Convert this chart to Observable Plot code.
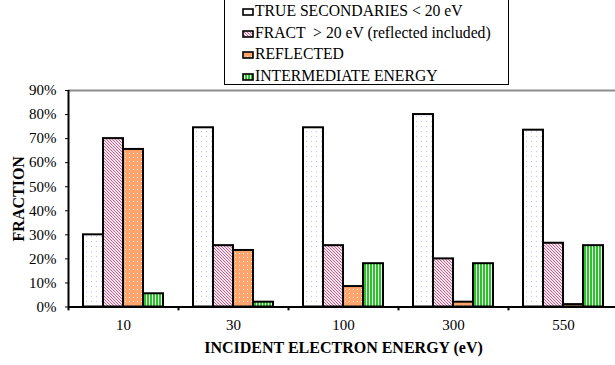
<!DOCTYPE html>
<html>
<head>
<meta charset="utf-8">
<script src="https://cdn.jsdelivr.net/npm/d3@7"></script>
<script src="https://cdn.jsdelivr.net/npm/@observablehq/plot@0.6"></script>
<style>
  html, body { margin: 0; padding: 0; background: white; }
  #wrap { position: relative; width: 615px; height: 365px; overflow: hidden; }
  #wrap svg.chart { display: block; }
  #legend { position: absolute; left: 224px; top: -3px; width: 283px; height: 86px;
            border: 1.5px solid black; background: white;
            font-family: "Liberation Serif", "Times New Roman", serif; font-size: 15.7px; color: black; }
  .row { position: absolute; left: 0; white-space: pre; }
  .row svg { position: absolute; left: 17px; }
  .row span { position: absolute; left: 30px; line-height: 18px; }
</style>
</head>
<body>
<div id="wrap"></div>
<script>
// ---- data ----
const categories = ["10", "30", "100", "300", "550"];
const seriesNames = [
  "TRUE SECONDARIES < 20 eV",
  "FRACT  > 20 eV (reflected included)",
  "REFLECTED",
  "INTERMEDIATE ENERGY"
];
const trueSecondaries = [30, 74.5, 74.5, 80, 73.5];
const fractAbove20 = [70, 25.5, 25.5, 20, 26.5];
const reflected = [65.5, 23.5, 8.5, 2, 1];
const intermediate = [5.5, 2, 18, 18, 25.5];
const yTicks = [0, 10, 20, 30, 40, 50, 60, 70, 80, 90];
const xTitle = "INCIDENT ELECTRON ENERGY (eV)";
const yTitle = "FRACTION";

const seriesValues = [trueSecondaries, fractAbove20, reflected, intermediate];
const rows = [];
seriesNames.forEach((s, k) => categories.forEach((c, i) => rows.push({energy: c, series: s, value: seriesValues[k][i]})));

const patIds = ["patTrue", "patFract", "patRefl", "patInter"];

const chart = Plot.plot({
  width: 615,
  height: 365,
  marginLeft: 68,
  marginRight: -3,
  marginTop: 90,
  marginBottom: 58.5,
  style: {fontFamily: "'Liberation Serif', 'Times New Roman', serif", fontSize: "15px", color: "black", background: "white"},
  fx: {domain: categories, padding: 0, label: xTitle, labelAnchor: "center", labelArrow: "none", labelOffset: 46, tickSize: 0, tickPadding: 12},
  x: {domain: seriesNames, paddingInner: 0, paddingOuter: 0.75, axis: null},
  y: {domain: [0, 90], ticks: yTicks, tickFormat: d => d + "%", tickSize: 3, tickPadding: 9, label: yTitle, labelAnchor: "center", labelArrow: "none", labelOffset: 56},
  marks: [
    Plot.ruleY([90], {stroke: "#8c8c8c", strokeWidth: 2}),
    ...seriesNames.map((s, k) => Plot.barY(rows.filter(d => d.series === s), {
      fx: "energy", x: "series", y: "value",
      fill: `url(#${patIds[k]})`, stroke: "black", strokeWidth: 2
    })),
    Plot.ruleY([0], {stroke: "black", strokeWidth: 2}),
    // boundary tick marks below the axis
    Plot.ruleX(categories, {fx: d => d, x: () => seriesNames[0], y1: 0, y2: -1.6, dx: -25, stroke: "black", strokeWidth: 2}),
    // y axis line (first facet only)
    Plot.ruleX([categories[0]], {fx: d => d, x: () => seriesNames[0], y1: 0, y2: 90, dx: -25, stroke: "black", strokeWidth: 2})
  ]
});
chart.classList.add("chart");

// pattern definitions
const svg = d3.select(chart);
const defs = svg.insert("defs", ":first-child");
function addPatterns(defs) {
  let p = defs.append("pattern").attr("id", "patTrue").attr("patternUnits", "userSpaceOnUse").attr("width", 5).attr("height", 5);
  p.append("rect").attr("width", 5).attr("height", 5).attr("fill", "white");
  p.append("rect").attr("x", 1).attr("y", 1).attr("width", 1).attr("height", 1).attr("fill", "#c4c4f2");
  p = defs.append("pattern").attr("id", "patFract").attr("patternUnits", "userSpaceOnUse").attr("width", 3).attr("height", 3);
  p.append("rect").attr("width", 3).attr("height", 3).attr("fill", "#f4e4ec");
  p.append("rect").attr("x", 0).attr("y", 0).attr("width", 1).attr("height", 1).attr("fill", "#b85c8c");
  p.append("rect").attr("x", 1).attr("y", 1).attr("width", 1).attr("height", 1).attr("fill", "#c9789f");
  p.append("rect").attr("x", 2).attr("y", 2).attr("width", 1).attr("height", 1).attr("fill", "#b85c8c");
  p = defs.append("pattern").attr("id", "patRefl").attr("patternUnits", "userSpaceOnUse").attr("width", 4).attr("height", 4);
  p.append("rect").attr("width", 4).attr("height", 4).attr("fill", "#ffa46c");
  p.append("rect").attr("x", 1).attr("y", 1).attr("width", 1).attr("height", 1).attr("fill", "#fff0e4");
  p = defs.append("pattern").attr("id", "patInter").attr("patternUnits", "userSpaceOnUse").attr("width", 3).attr("height", 3);
  p.append("rect").attr("width", 3).attr("height", 3).attr("fill", "#2fbf2f");
  p.append("rect").attr("x", 2).attr("y", 0).attr("width", 1).attr("height", 3).attr("fill", "#e8ffe8");
}
addPatterns(defs);
// bold, slightly larger axis titles
svg.selectAll("g[aria-label='fx-axis label'], g[aria-label='y-axis label']")
  .attr("font-weight", "bold").attr("font-size", "16px");

const wrap = document.getElementById("wrap");
wrap.appendChild(chart);

// legend (HTML, overlapping the top of the chart as in the reference)
const legend = document.createElement("div");
legend.id = "legend";
seriesNames.forEach((s, k) => {
  const row = document.createElement("div");
  row.className = "row";
  row.style.top = (4 + k * 21.5) + "px";
  row.innerHTML = `<svg width="12" height="8" style="top:6px"><rect x="1" y="1" width="10" height="6" fill="url(#${patIds[k]})" stroke="black" stroke-width="1.6"/></svg><span>${s.replace(/</g, "&lt;").replace(/>/g, "&gt;")}</span>`;
  legend.appendChild(row);
});
wrap.appendChild(legend);
</script>
</body>
</html>
